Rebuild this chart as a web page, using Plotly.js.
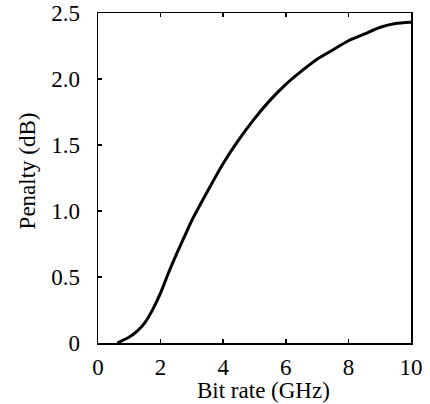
<!DOCTYPE html>
<html>
<head>
<meta charset="utf-8">
<script src="https://cdn.plot.ly/plotly-3.0.1.min.js"></script>
<style>html,body{margin:0;padding:0;background:#fff;}#chart{width:430px;height:404px;}</style>
</head>
<body>
<div id="chart"></div>
<script>
const bitRate = [0.62, 1.0, 1.25, 1.5, 1.75, 2.0, 2.25, 2.5, 2.75, 3.0, 3.5, 4.0, 4.5, 5.0, 5.5, 6.0, 6.5, 7.0, 7.5, 8.0, 8.5, 9.0, 9.5, 10.0];
const penalty = [0.0, 0.045, 0.09, 0.155, 0.255, 0.38, 0.53, 0.67, 0.80, 0.93, 1.15, 1.36, 1.54, 1.70, 1.84, 1.96, 2.06, 2.15, 2.22, 2.29, 2.34, 2.39, 2.42, 2.43];
const xTickVals = [0, 2, 4, 6, 8, 10];
const xTickText = ["0", "2", "4", "6", "8", "10"];
const yTickVals = [0, 0.5, 1.0, 1.5, 2.0, 2.5];
const yTickText = ["0", "0.5", "1.0", "1.5", "2.0", "2.5"];
const xTitle = "Bit rate (GHz)";
const yTitle = "Penalty (dB)";

const fontFam = "Liberation Serif";
const trace = {
  x: bitRate, y: penalty, type: "scatter", mode: "lines",
  line: {color: "#000", width: 3, shape: "spline", smoothing: 0.7},
  hoverinfo: "skip"
};
const layout = {
  width: 430, height: 404,
  margin: {l: 98, r: 19, t: 13, b: 61},
  paper_bgcolor: "#fff", plot_bgcolor: "#fff",
  showlegend: false,
  font: {family: fontFam, size: 23, color: "#000"},
  xaxis: {
    range: [0, 10], tickvals: xTickVals, ticktext: xTickText,
    ticks: "inside", ticklen: 4, tickwidth: 1.5, tickcolor: "#000",
    showline: true, linecolor: "#000", linewidth: 1.5, mirror: "ticks",
    showgrid: false, zeroline: false,
    tickfont: {family: fontFam, size: 23, color: "#000"},
    ticklabelstandoff: 3
  },
  yaxis: {
    range: [0, 2.5], tickvals: yTickVals, ticktext: yTickText,
    ticks: "inside", ticklen: 4, tickwidth: 1.5, tickcolor: "#000",
    showline: true, linecolor: "#000", linewidth: 1.5, mirror: true,
    showgrid: false, zeroline: false,
    tickfont: {family: fontFam, size: 23, color: "#000"},
    ticklabelstandoff: 12
  },
  annotations: [
    {text: xTitle, xref: "paper", yref: "paper", x: 0.53, y: 0, yshift: -61,
     xanchor: "center", yanchor: "bottom", showarrow: false, borderpad: 0,
     font: {family: fontFam, size: 23, color: "#000"}},
    {text: yTitle, xref: "paper", yref: "paper", x: 0, xshift: -71, y: 0.52,
     xanchor: "center", yanchor: "middle", textangle: -90, showarrow: false,
     font: {family: fontFam, size: 23, color: "#000"}}
  ]
};
Plotly.newPlot("chart", [trace], layout, {staticPlot: true, displayModeBar: false});
</script>
</body>
</html>
